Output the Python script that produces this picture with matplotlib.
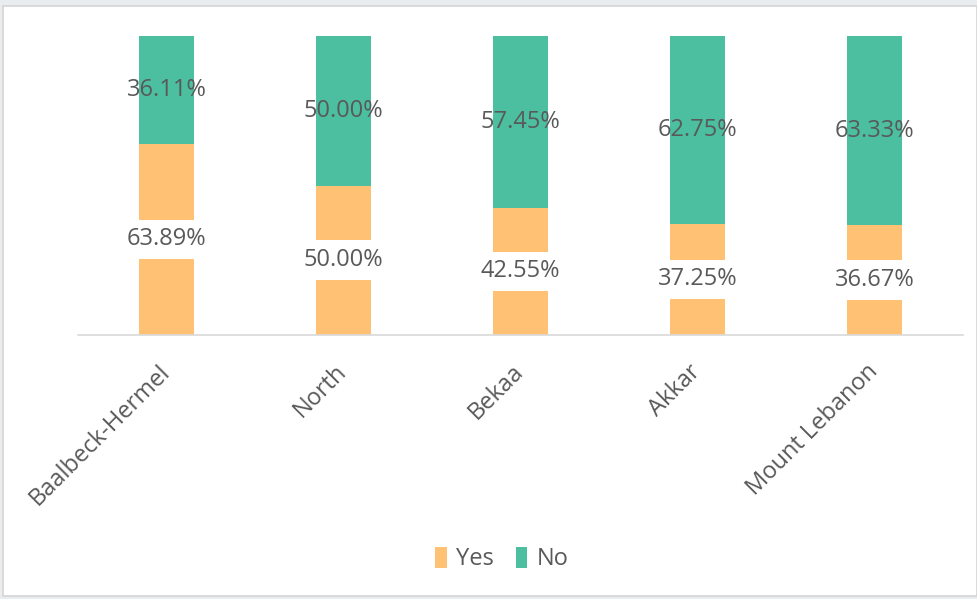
import matplotlib
matplotlib.use("Agg")
import matplotlib.pyplot as plt
from matplotlib.patches import Rectangle
import numpy as np

categories = ["Baalbeck-Hermel", "North", "Bekaa", "Akkar", "Mount Lebanon"]
yes_vals = [63.89, 50.00, 42.55, 37.25, 36.67]
no_vals = [36.11, 50.00, 57.45, 62.75, 63.33]
series_names = ["Yes", "No"]
colors = ["#FFC274", "#4BBFA0"]
text_color = "#595959"

plt.rcParams['font.family'] = ['Open Sans', 'DejaVu Sans']

fig = plt.figure(figsize=(9.77, 5.99), dpi=100)
fig.patch.set_facecolor("#E9EDF0")
panel = Rectangle((3/977, 3/599), 1 - 3/977, 1 - 9/599, transform=fig.transFigure,
                  facecolor="white", edgecolor="#D4D4D4", linewidth=1.2, zorder=-10)
fig.add_artist(panel)

ax = fig.add_axes([78/977, 1 - 335/599, 885/977, 299/599])
ax.set_facecolor("none")
ax.set_zorder(5)
x = np.arange(len(categories))
w = 0.316
yes = np.array(yes_vals)
no = np.array(no_vals)
ax.bar(x, yes, w, color=colors[0], label=series_names[0], zorder=2)
ax.bar(x, no, w, bottom=yes, color=colors[1], label=series_names[1], zorder=2)

fs = 17
for i in range(len(categories)):
    ax.text(x[i], yes[i] / 2, f"{yes[i]:.2f}%", ha="center", va="center",
            fontsize=fs, color=text_color, zorder=4,
            bbox=dict(facecolor="white", edgecolor="none", boxstyle="square,pad=0.33"))
    ax.text(x[i], yes[i] + no[i] / 2, f"{no[i]:.2f}%", ha="center", va="center",
            fontsize=fs, color=text_color, zorder=4)

ax.set_xlim(-0.5, len(categories) - 0.5)
ax.set_ylim(0, 100)
ax.set_yticks([])
for s in ["top", "right", "left"]:
    ax.spines[s].set_visible(False)
ax.spines["bottom"].set_color("#D9D9D9")
ax.spines["bottom"].set_linewidth(1.2)
ax.set_xticks(x)
ax.set_xticklabels(categories, rotation=45, ha="right", va="center", rotation_mode="anchor",
                   fontsize=fs, color=text_color)
ax.tick_params(axis="x", length=0, pad=24)

leg = fig.legend(loc="center", bbox_to_anchor=(502/977, 1 - 559/599), ncol=2,
                 frameon=False, fontsize=fs, handlelength=0.5, handleheight=1.0,
                 handletextpad=0.4, columnspacing=0.9, labelcolor=text_color)

fig.savefig("out.png", dpi=100, facecolor=fig.get_facecolor())
